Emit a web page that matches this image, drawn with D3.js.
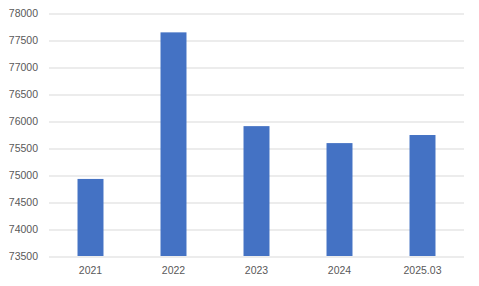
<!DOCTYPE html>
<html>
<head>
<meta charset="utf-8">
<script src="https://cdn.jsdelivr.net/npm/d3@7"></script>
<style>
  body { margin: 0; background: #fff; }
  #chart { width: 479px; height: 286px; }
</style>
</head>
<body>
<div id="chart"></div>
<script>
// Chart data
var categories = ['2021', '2022', '2023', '2024', '2025.03'];
var values = [74930, 77650, 75910, 75595, 75745];
var yTicks = [73500, 74000, 74500, 75000, 75500, 76000, 76500, 77000, 77500, 78000];

var margin = { top: 13.5, right: 15, bottom: 30, left: 49 };
var width = 479 - margin.left - margin.right;
var height = 286 - margin.top - margin.bottom;

var svg = d3.select('#chart')
    .append('svg')
    .attr('width', 479)
    .attr('height', 286)
    .append('g')
    .attr('transform', `translate(${margin.left},${margin.top})`);

var xScale = d3.scaleBand()
    .domain(categories)
    .range([0, width])
    .paddingInner(0.687)
    .paddingOuter(0.3435);

var yScale = d3.scaleLinear()
    .domain([73500, 78000])
    .range([height, 0]);

// Gridlines
svg.append('g')
    .selectAll('line')
    .data(yTicks)
    .enter()
    .append('line')
    .attr('x1', 0)
    .attr('x2', width)
    .attr('y1', d => Math.round(yScale(d)) + 0.5)
    .attr('y2', d => Math.round(yScale(d)) + 0.5)
    .attr('stroke', '#d9d9d9')
    .attr('stroke-width', 1);

// Y axis labels
var yAxis = svg.append('g')
    .call(d3.axisLeft(yScale).tickValues(yTicks).tickSize(0).tickPadding(11).tickFormat(d3.format('d')));
yAxis.select('.domain').remove();
yAxis.selectAll('text')
    .attr('fill', '#595959')
    .style('font-family', 'Liberation Sans, Arial, sans-serif')
    .style('font-size', '10.5px');

// Bars
svg.selectAll('.bar')
    .data(values)
    .enter()
    .append('rect')
    .attr('class', 'bar')
    .attr('x', (d, i) => xScale(categories[i]))
    .attr('y', d => yScale(d))
    .attr('width', xScale.bandwidth())
    .attr('height', d => height - yScale(d))
    .attr('fill', '#4472c4');

// X axis labels
var xAxis = svg.append('g')
    .attr('transform', `translate(0,${height})`)
    .call(d3.axisBottom(xScale).tickSize(0).tickPadding(11));
xAxis.select('.domain').remove();
xAxis.selectAll('text')
    .attr('fill', '#595959')
    .style('font-family', 'Liberation Sans, Arial, sans-serif')
    .style('font-size', '10.5px');
</script>
</body>
</html>
